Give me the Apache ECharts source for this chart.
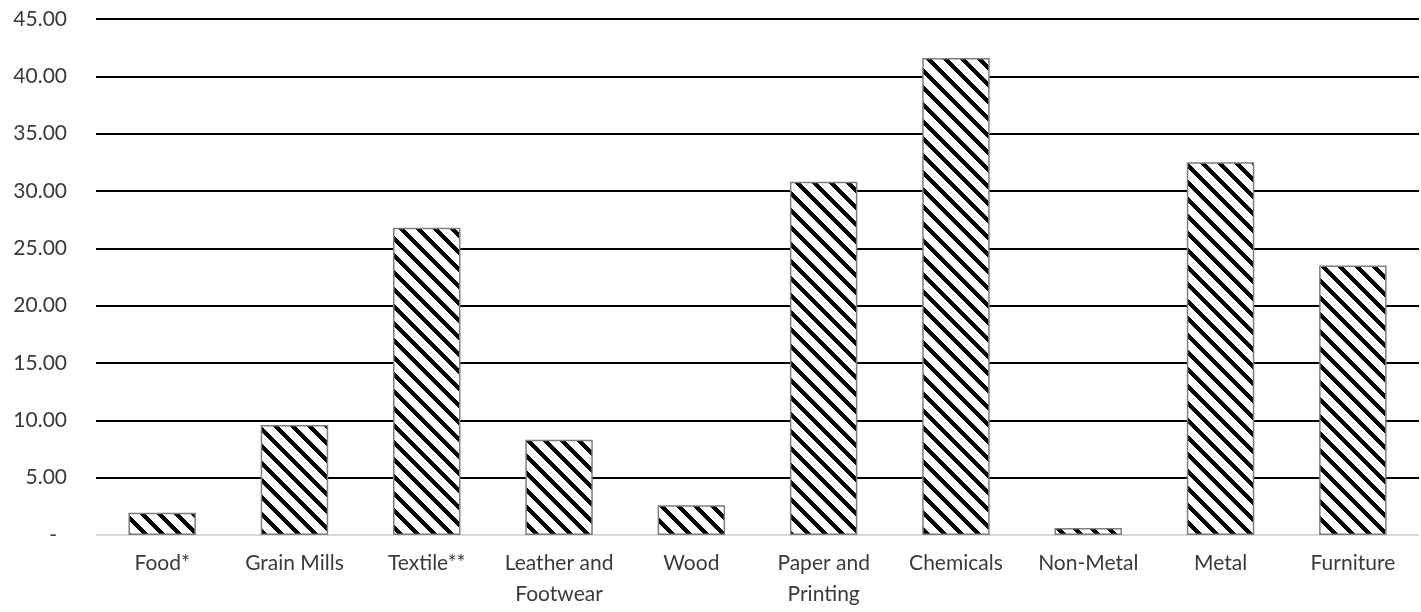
<!DOCTYPE html>
<html>
<head>
<meta charset="utf-8">
<script src="https://cdn.jsdelivr.net/npm/echarts@6/dist/echarts.min.js"></script>
<style>
  html, body { margin: 0; padding: 0; background: #fff; }
  #chart { width: 1421px; height: 612px; }
</style>
</head>
<body>
<div id="chart"></div>
<script>
// Sector names (line breaks as they wrap under the axis)
const categories = ['Food*', 'Grain Mills', 'Textile**', 'Leather and\nFootwear', 'Wood',
  'Paper and\nPrinting', 'Chemicals', 'Non-Metal', 'Metal', 'Furniture'];
// Value per sector
const values = [1.95, 9.6, 26.8, 8.3, 2.6, 30.8, 41.6, 0.6, 32.5, 23.5];
// Value axis range and step
const yMin = 0, yMax = 45, yStep = 5;

// Black/white downward-diagonal hatch tile, drawn pixel by pixel
function hatchTile(period, dark) {
  const c = document.createElement('canvas');
  c.width = period; c.height = period;
  const ctx = c.getContext('2d');
  ctx.fillStyle = '#fff';
  ctx.fillRect(0, 0, period, period);
  ctx.fillStyle = '#000';
  for (let y = 0; y < period; y++) {
    for (let x = 0; x < period; x++) {
      const d = ((x - y) % period + period) % period;
      if (d < dark) ctx.fillRect(x, y, 1, 1);
    }
  }
  return c;
}

const chart = echarts.init(document.getElementById('chart'), null, { renderer: 'canvas' });
const font = 'Lato';
const gridColors = [];
for (let v = yMin; v <= yMax; v += yStep) gridColors.push(v === 0 ? '#d9d9d9' : '#000000');

chart.setOption({
  animation: false,
  backgroundColor: '#ffffff',
  grid: { left: 96, right: 2, top: 19, bottom: 77, containLabel: false },
  xAxis: {
    type: 'category',
    data: categories,
    axisLine: { show: false },
    axisTick: { show: false },
    axisLabel: {
      color: '#3a3a3a', fontFamily: font, fontSize: 21, lineHeight: 31,
      margin: 13, interval: 0
    }
  },
  yAxis: {
    type: 'value',
    min: yMin, max: yMax, interval: yStep,
    axisLine: { show: false },
    axisTick: { show: false },
    splitLine: { show: true, lineStyle: { color: gridColors, width: 2 } },
    axisLabel: {
      color: '#3a3a3a', fontFamily: font, fontSize: 21, margin: 29,
      formatter: v => v === 0 ? '{z|-}' : v.toFixed(2),
      rich: { z: { color: '#3a3a3a', fontFamily: font, fontSize: 21, padding: [0, 10, 0, 0] } }
    }
  },
  series: [{
    type: 'bar',
    data: values,
    barWidth: '51%',
    itemStyle: {
      color: { image: hatchTile(17, 6), repeat: 'repeat' },
      borderColor: '#7f7f7f',
      borderWidth: 1.5
    }
  }]
});
</script>
</body>
</html>
